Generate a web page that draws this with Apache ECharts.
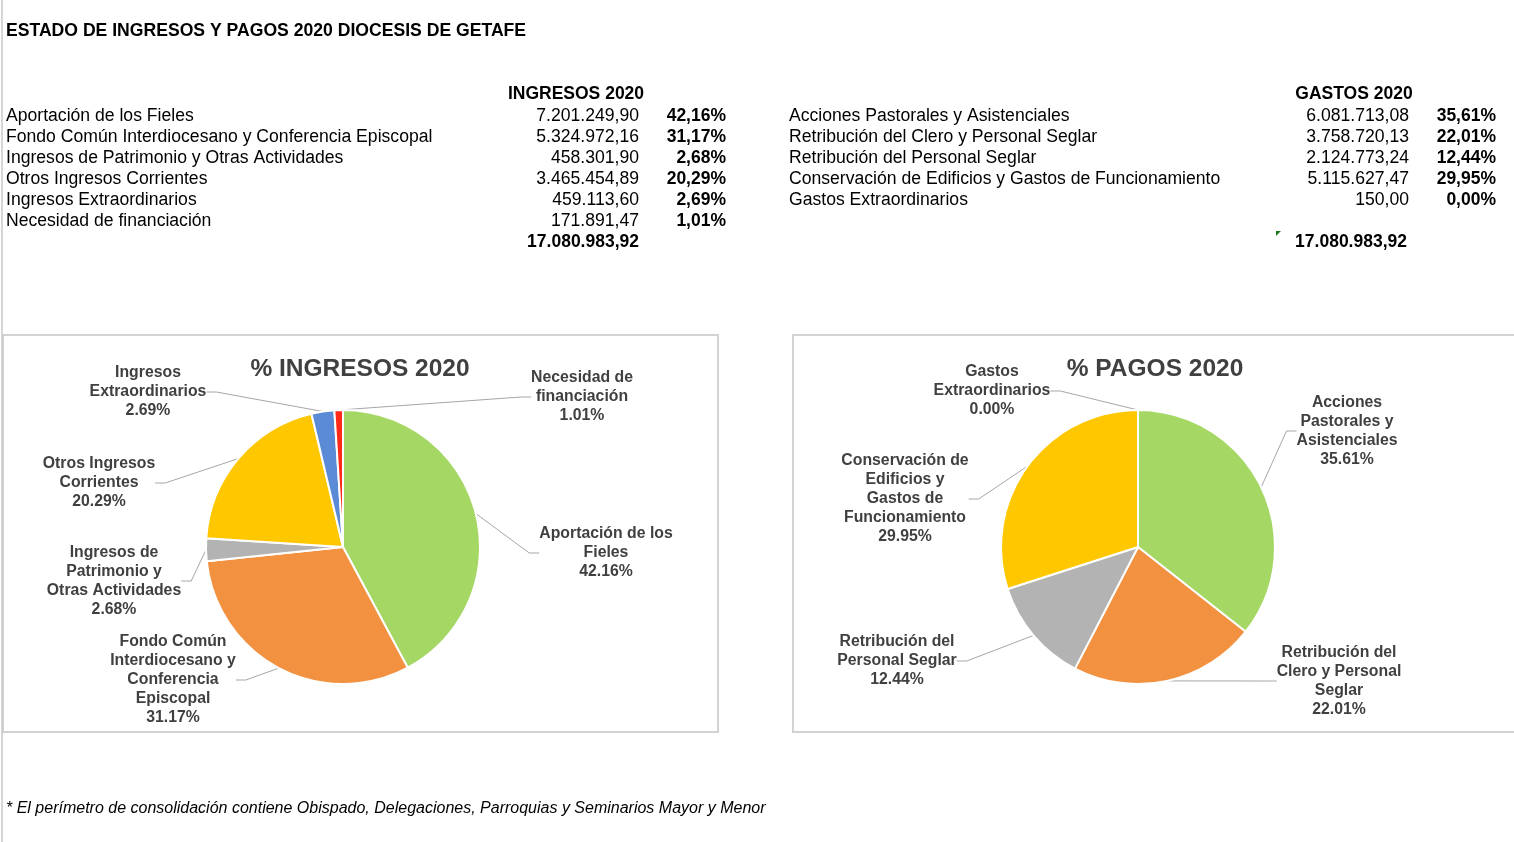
<!DOCTYPE html>
<html><head><meta charset="utf-8">
<script src="https://cdn.jsdelivr.net/npm/echarts@6/dist/echarts.min.js"></script>
<style>html,body{margin:0;padding:0;background:#fff}#c{width:1514px;height:842px}</style>
</head><body><div id="c"></div>
<script>
// ---------- DATA ----------
const pageTitle = 'ESTADO DE INGRESOS Y PAGOS 2020 DIOCESIS DE GETAFE';
const ingresosHeader = 'INGRESOS 2020';
const ingresosCategories = [
  'Aportación de los Fieles',
  'Fondo Común Interdiocesano y Conferencia Episcopal',
  'Ingresos de Patrimonio y Otras Actividades',
  'Otros Ingresos Corrientes',
  'Ingresos Extraordinarios',
  'Necesidad de financiación'
];
const ingresosValues = [7201249.90, 5324972.16, 458301.90, 3465454.89, 459113.60, 171891.47];
const ingresosPieLabels = [
  'Aportación de los\nFieles',
  'Fondo Común\nInterdiocesano y\nConferencia\nEpiscopal',
  'Ingresos de\nPatrimonio y\nOtras Actividades',
  'Otros Ingresos\nCorrientes',
  'Ingresos\nExtraordinarios',
  'Necesidad de\nfinanciación'
];
const ingresosPieTitle = '% INGRESOS 2020';

const gastosHeader = 'GASTOS 2020';
const gastosCategories = [
  'Acciones Pastorales y Asistenciales',
  'Retribución del Clero y Personal Seglar',
  'Retribución del Personal Seglar',
  'Conservación de Edificios y Gastos de Funcionamiento',
  'Gastos Extraordinarios'
];
const gastosValues = [6081713.08, 3758720.13, 2124773.24, 5115627.47, 150.00];
const gastosPieLabels = [
  'Acciones\nPastorales y\nAsistenciales',
  'Retribución del\nClero y Personal\nSeglar',
  'Retribución del\nPersonal Seglar',
  'Conservación de\nEdificios y\nGastos de\nFuncionamiento',
  'Gastos\nExtraordinarios'
];
const gastosPieTitle = '% PAGOS 2020';
const footnote = '* El perímetro de consolidación contiene Obispado, Delegaciones, Parroquias y Seminarios Mayor y Menor';

// ---------- STYLE / LAYOUT ----------
const sliceColors = ['#A5D764', '#F29140', '#B3B3B3', '#FFC700', '#5B8BD6', '#FF2A17'];
const FONT = '"Liberation Sans", Arial, Helvetica, sans-serif';
const TEXT = '#000000';
const LABEL = '#404040';
const ingresosLabelPos = [[606,553],[173,680],[114,581],[99,483],[148,392],[582,397]];
const gastosLabelPos = [[1347,431],[1339,681],[897,661],[905,499],[992,391]];

const sum = a => a.reduce((s, v) => s + v, 0);
const fmtES = v => {
  const parts = v.toFixed(2).split('.');
  return parts[0].replace(/\B(?=(\d{3})+(?!\d))/g, '.') + ',' + parts[1];
};
const pctES = (v, t) => (v / t * 100).toFixed(2).replace('.', ',') + '%';
const pctEN = (v, t) => (v / t * 100).toFixed(2) + '%';

const ingTotal = sum(ingresosValues);
const gasTotal = sum(gastosValues);

const graphics = [];
function txt(text, x, y, font, align, fill) {
  graphics.push({type: 'text', x: x, y: y, silent: true,
    style: {text: text, font: font, fill: fill || TEXT, align: align || 'left', verticalAlign: 'middle'}});
}
// spreadsheet left edge
graphics.push({type: 'line', shape: {x1: 2, y1: 0, x2: 2, y2: 842}, style: {stroke: '#C8C8C8', lineWidth: 1.5}, silent: true});
// chart boxes
graphics.push({type: 'rect', shape: {x: 3, y: 335, width: 715, height: 397}, style: {fill: 'none', stroke: '#D2D2D2', lineWidth: 2}, silent: true, z: -1});
graphics.push({type: 'rect', shape: {x: 793, y: 335, width: 740, height: 397}, style: {fill: 'none', stroke: '#D2D2D2', lineWidth: 2}, silent: true, z: -1});

const regF = '17.6px ' + FONT;
const boldF = 'bold 17.5px ' + FONT;
txt(pageTitle, 6, 31.5, 'bold 17.6px ' + FONT);
// Ingresos table
txt(ingresosHeader, 576, 94, boldF, 'center');
ingresosCategories.forEach((c, i) => {
  const y = 116 + 21 * i;
  txt(c, 6, y, regF);
  txt(fmtES(ingresosValues[i]), 639, y, regF, 'right');
  txt(pctES(ingresosValues[i], ingTotal), 726, y, boldF, 'right');
});
txt(fmtES(ingTotal), 639, 242, boldF, 'right');
// Gastos table
txt(gastosHeader, 1354, 94, boldF, 'center');
gastosCategories.forEach((c, i) => {
  const y = 116 + 21 * i;
  txt(c, 789, y, regF);
  txt(fmtES(gastosValues[i]), 1409, y, regF, 'right');
  txt(pctES(gastosValues[i], gasTotal), 1496, y, boldF, 'right');
});
txt(fmtES(gasTotal), 1407, 242, boldF, 'right');
graphics.push({type: 'polygon', shape: {points: [[1276,231],[1281,231],[1276,236]]}, style: {fill: '#1E7B1E'}, silent: true});
// pie titles
txt(ingresosPieTitle, 360, 369, 'bold 24.5px ' + FONT, 'center', LABEL);
txt(gastosPieTitle, 1155, 369, 'bold 24.5px ' + FONT, 'center', LABEL);
// footnote
txt(footnote, 6, 808.5, 'italic 16px ' + FONT);

function pieSeries(values, labels, total, center, pos) {
  return {
    type: 'pie',
    center: center,
    radius: 137,
    startAngle: 90,
    clockwise: true,
    avoidLabelOverlap: false,
    minShowLabelAngle: 0,
    animation: false,
    data: values.map((v, i) => ({value: v, name: labels[i], itemStyle: {color: sliceColors[i]}})),
    itemStyle: {borderColor: '#ffffff', borderWidth: 2},
    label: {
      show: true, position: 'outside',
      formatter: p => labels[p.dataIndex] + '\n' + pctEN(p.value, total),
      fontFamily: FONT, fontWeight: 'bold', fontSize: 15.8, lineHeight: 19,
      color: LABEL, align: 'center'
    },
    labelLine: {show: true, length: 10, length2: 10, smooth: false, lineStyle: {color: '#A6A6A6', width: 1}},
    labelLayout: p => ({x: pos[p.dataIndex][0], y: pos[p.dataIndex][1], align: 'center', verticalAlign: 'middle'}),
    emphasis: {disabled: true}
  };
}

const chart = echarts.init(document.getElementById('c'), null, {renderer: 'canvas'});
chart.setOption({
  backgroundColor: '#ffffff',
  animation: false,
  graphic: graphics,
  series: [
    pieSeries(ingresosValues, ingresosPieLabels, ingTotal, [343, 547], ingresosLabelPos),
    pieSeries(gastosValues, gastosPieLabels, gasTotal, [1138, 547], gastosLabelPos)
  ]
});
</script></body></html>
